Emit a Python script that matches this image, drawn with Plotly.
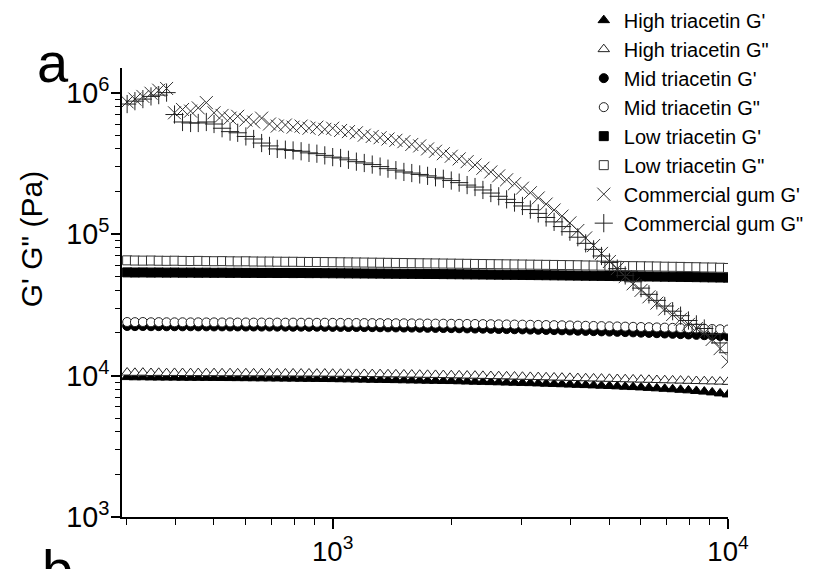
import plotly.graph_objects as go

# Angular frequency of the sweep (log spaced)
freq = [302, 316, 331, 347, 363, 380, 398, 417, 437, 457, 479, 501, 525, 550, 575,
        603, 631, 661, 692, 724, 759, 794, 832, 871, 912, 955,
        1000, 1047, 1096, 1148, 1202, 1259, 1318, 1380, 1445, 1514, 1585, 1660, 1738,
        1820, 1905, 1995, 2089, 2188, 2291, 2399, 2512, 2630, 2754, 2884, 3020, 3162,
        3311, 3467, 3631, 3802, 3981, 4169, 4365, 4571, 4786, 5012, 5248, 5495, 5754,
        6026, 6310, 6607, 6918, 7244, 7586, 7943, 8318, 8710, 9120, 9550, 10000]

high_gp = [9750, 9720, 9730, 9700, 9690, 9680, 9670, 9660, 9650, 9640, 9630, 9620, 9610,
           9600, 9590, 9580, 9570, 9560, 9550, 9540, 9520, 9510, 9500, 9480, 9470, 9450,
           9440, 9420, 9400, 9380, 9360, 9340, 9320, 9300, 9280, 9260, 9240, 9220, 9200,
           9180, 9160, 9140, 9110, 9080, 9050, 9020, 8990, 8960, 8930, 8900, 8870,
           8840, 8800, 8760, 8720, 8680, 8640, 8600, 8560, 8520, 8480, 8440, 8390, 8340,
           8290, 8240, 8180, 8120, 8060, 8000, 7930, 7860, 7780, 7700, 7600, 7480, 7350]
high_gpp = [10500, 10450, 10480, 10420, 10450, 10400, 10430, 10420, 10400, 10410, 10390,
            10400, 10380, 10390, 10370, 10380, 10360, 10370, 10350, 10360, 10340, 10350,
            10330, 10340, 10320, 10330,
            10300, 10300, 10280, 10270, 10260, 10240, 10230, 10210, 10200, 10180, 10160,
            10140, 10120, 10100, 10080, 10050, 10030, 10000, 9980, 9950, 9920, 9900, 9870,
            9840, 9810,
            9780, 9750, 9720, 9690, 9660, 9630, 9600, 9570, 9540, 9510, 9480, 9450, 9420,
            9390, 9360, 9330, 9300, 9270, 9240, 9210, 9180, 9150, 9120, 9090, 9060, 9020]
mid_gp = [22400, 22350, 22380, 22320, 22340, 22300, 22310, 22280, 22290, 22260, 22270,
          22240, 22250, 22220, 22230, 22200, 22210, 22180, 22190, 22160, 22170, 22140,
          22150, 22120, 22130, 22100,
          22080, 22060, 22040, 22020, 22000, 21970, 21940, 21910, 21880, 21850, 21820,
          21780, 21740, 21700, 21660, 21620, 21580, 21540, 21490, 21440, 21390, 21340,
          21290, 21240, 21180,
          21120, 21060, 21000, 20940, 20880, 20810, 20740, 20670, 20600, 20520, 20440,
          20360, 20280, 20190, 20100, 20010, 19920, 19820, 19720, 19620, 19510, 19400,
          19280, 19160, 19030, 18900]
mid_gpp = [23900, 23850, 23900, 23800, 23850, 23800, 23780, 23800, 23760, 23780, 23740,
           23760, 23720, 23740, 23700, 23720, 23680, 23700, 23660, 23680, 23640, 23660,
           23620, 23640, 23600, 23620,
           23580, 23560, 23540, 23520, 23500, 23480, 23460, 23440, 23420, 23400, 23380,
           23350, 23320, 23290, 23260, 23230, 23200, 23170, 23140, 23100, 23060, 23020,
           22980, 22940, 22900,
           22850, 22800, 22750, 22700, 22650, 22600, 22540, 22480, 22420, 22360, 22300,
           22240, 22170, 22100, 22030, 21960, 21890, 21820, 21740, 21660, 21580, 21500,
           21420, 21340, 21250, 21150]
low_gp = [53600, 53500, 53550, 53450, 53500, 53400, 53450, 53350, 53400, 53300, 53350,
          53250, 53300, 53200, 53250, 53150, 53200, 53100, 53150, 53050, 53100, 53000,
          53050, 52950, 53000, 52900,
          52850, 52800, 52750, 52700, 52650, 52600, 52550, 52500, 52450, 52400, 52350,
          52300, 52250, 52200, 52130, 52060, 51990, 51920, 51850, 51780, 51710, 51640,
          51570, 51500, 51420,
          51340, 51260, 51180, 51100, 51020, 50940, 50860, 50780, 50700, 50620, 50540,
          50460, 50380, 50300, 50220, 50140, 50060, 49980, 49900, 49800, 49700, 49600,
          49500, 49400, 49300, 49200]
low_gpp = [65200, 65000, 64900, 65000, 64800, 64700, 64800, 64600, 64500, 64600, 64400,
           64300, 64400, 64200, 64100, 64200, 64000, 63900, 63900, 63800, 63700, 63700,
           63600, 63500, 63500, 63400,
           63300, 63200, 63100, 63000, 62900, 62800, 62700, 62600, 62500, 62400, 62300,
           62200, 62100, 62000, 61900, 61800, 61700, 61600, 61500, 61400, 61300, 61200,
           61100, 61000, 60900,
           60800, 60700, 60600, 60500, 60400, 60300, 60200, 60000, 59900, 59800, 59700,
           59600, 59400, 59300, 59200, 59100, 59000, 58800, 58700, 58600, 58400, 58300,
           58100, 58000, 57800, 57600]
gum_gp = [860000, 900000, 940000, 990000, 1040000, 1070000, 720000, 760000, 740000,
          780000, 850000, 720000, 690000, 660000, 680000, 640000, 620000, 660000, 600000,
          580000, 590000, 570000, 580000, 560000, 570000, 550000,
          560000, 540000, 530000, 520000, 500000, 490000, 480000, 470000, 460000, 450000,
          430000, 420000, 400000, 385000, 370000, 355000, 340000, 325000, 308000, 292000,
          275000, 258000, 242000, 227000, 211000,
          196000, 180000, 163000, 148000, 134000, 120000, 106000, 94000, 83000, 73000,
          64000, 57000, 50000, 44500, 40000, 36000, 32500, 29500, 27000, 25000, 23000,
          21500, 20000, 18000, 15500, 12500]
gum_gpp = [830000, 870000, 900000, 940000, 960000, 1000000, 700000, 620000, 610000,
           610000, 620000, 600000, 560000, 530000, 520000, 490000, 470000, 440000, 420000,
           400000, 395000, 390000, 385000, 375000, 370000, 360000,
           350000, 345000, 335000, 325000, 318000, 310000, 300000, 290000, 283000, 275000,
           270000, 264000, 258000, 252000, 246000, 239000, 231000, 222000, 215000, 205000,
           195000, 185000, 176000, 167000, 158000,
           149000, 140000, 131000, 122000, 113000, 104000, 95000, 86000, 78000, 70000,
           63000, 57000, 51000, 46000, 41500, 37500, 34000, 31000, 28500, 26500, 24500,
           23000, 21500, 19500, 17000, 14500]

names = ["High triacetin G'", 'High triacetin G"', "Mid triacetin G'", 'Mid triacetin G"',
         "Low triacetin G'", 'Low triacetin G"', "Commercial gum G'", 'Commercial gum G"']
values = [high_gp, high_gpp, mid_gp, mid_gpp, low_gp, low_gpp, gum_gp, gum_gpp]

# marker style per series: (symbol, size, fill, outline)
styles = [
    ("triangle-up", 10, "black", "black"),
    ("triangle-up", 10, "white", "#222222"),
    ("circle", 9, "black", "black"),
    ("circle", 9, "white", "#222222"),
    ("square", 9, "black", "black"),
    ("square", 9, "white", "#333333"),
    ("x-thin", 13, "#333333", "#333333"),
    ("cross-thin", 13, "#222222", "#222222"),
]

FONT = "Arial, Liberation Sans, sans-serif"

fig = go.Figure()
for name, vals, (sym, size, fill, edge) in zip(names, values, styles):
    fig.add_trace(go.Scatter(
        x=freq, y=vals, mode="markers", name=name,
        marker=dict(symbol=sym, size=size, color=fill,
                    line=dict(color=edge, width=1)),
    ))

fig.update_xaxes(
    type="log", range=[2.467, 4.0], dtick=1, exponentformat="power",
    showline=True, linecolor="black", linewidth=1.5, mirror=False,
    ticks="outside", ticklen=10, tickwidth=1.5, tickcolor="black",
    minor=dict(ticks="outside", ticklen=6, tickwidth=1.2, tickcolor="black",
               dtick="D1", showgrid=False),
    showgrid=False, zeroline=False,
    tickfont=dict(family=FONT, size=22, color="black"),
)
fig.update_yaxes(
    type="log", range=[3, 6.174], dtick=1, exponentformat="power",
    showline=True, linecolor="black", linewidth=2, mirror=False,
    ticks="outside", ticklen=9, tickwidth=1.5, tickcolor="black",
    minor=dict(ticks="outside", ticklen=5, tickwidth=1.2, tickcolor="black",
               dtick="D1", showgrid=False),
    showgrid=False, zeroline=False, ticklabelstandoff=-3,
    tickfont=dict(family=FONT, size=23, color="black"),
)

fig.update_layout(
    width=830, height=569,
    margin=dict(l=122, r=102, t=68, b=52, autoexpand=False),
    paper_bgcolor="white", plot_bgcolor="white",
    font=dict(family=FONT, color="black"),
    legend=dict(x=0.762, y=1.15, xanchor="left", yanchor="top",
                bgcolor="rgba(0,0,0,0)", borderwidth=0,
                font=dict(family=FONT, size=20, color="black")),
    annotations=[
        dict(text='G\' G" (Pa)', textangle=-90, xref="paper", yref="paper",
             x=-0.149, y=0.618, showarrow=False, xanchor="center", yanchor="middle",
             font=dict(family=FONT, size=30, color="black")),
        dict(text="a", xref="paper", yref="paper", x=-0.114, y=1.012,
             showarrow=False, xanchor="center", yanchor="middle",
             font=dict(family=FONT, size=56, color="black")),
        dict(text="b", xref="paper", yref="paper", x=-0.106, y=-0.118,
             showarrow=False, xanchor="center", yanchor="middle",
             font=dict(family=FONT, size=56, color="black")),
    ],
)

fig.write_html("out.html")
